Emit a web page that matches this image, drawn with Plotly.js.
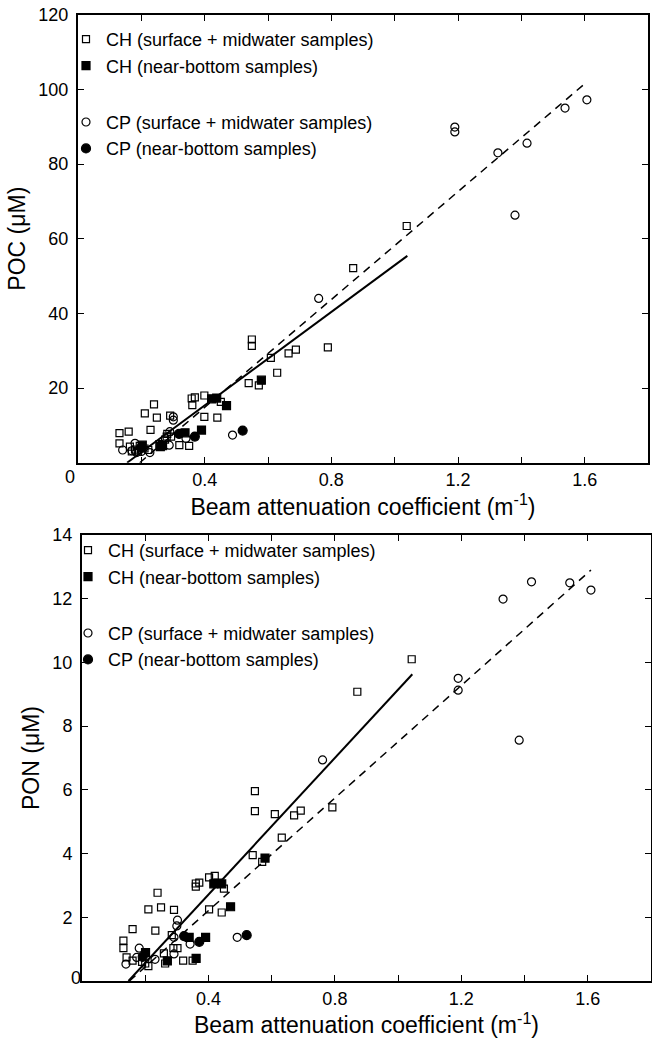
<!DOCTYPE html>
<html>
<head>
<meta charset="utf-8">
<script src="https://cdn.plot.ly/plotly-3.0.1.min.js"></script>
<style>html,body{margin:0;padding:0;background:#fff;}</style>
</head>
<body>
<div id="chart" style="width:652px;height:1039px;"></div>
<script>
// ---------- DATA: POC (top panel) ----------
const pocChSurfX = [0.131,0.131,0.16,0.164,0.17,0.18,0.19,0.195,0.2,0.211,0.21,0.222,0.229,0.24,0.249,0.257,0.275,0.28,0.282,0.291,0.294,0.32,0.351,0.359,0.361,0.369,0.399,0.399,0.44,0.451,0.539,0.549,0.549,0.571,0.609,0.629,0.665,0.688,0.789,0.869,1.038];
const pocChSurfY = [7.9,5.2,8.3,4.3,3.0,3.5,3.0,4.5,4.0,13.2,3.8,3.4,8.8,15.6,12.1,5.0,6.2,7.0,7.7,12.6,7.0,4.7,4.5,17.2,15.4,17.5,18.0,12.3,12.1,16.3,21.3,33.0,31.3,20.7,28.1,24.1,29.3,30.3,30.9,52.1,63.4];
const pocChBotX = [0.203,0.26,0.267,0.338,0.39,0.422,0.438,0.469,0.579];
const pocChBotY = [4.7,4.3,4.6,8.0,8.75,17.1,17.3,15.3,22.1];
const pocCpSurfX = [0.141,0.17,0.18,0.185,0.2,0.227,0.288,0.29,0.301,0.301,0.341,0.488,0.76,1.19,1.19,1.326,1.38,1.418,1.538,1.607];
const pocCpSurfY = [3.4,3.2,5.2,2.7,3.0,2.7,4.7,8.3,12.3,11.4,6.5,7.4,44.0,89.9,88.6,83.0,66.3,85.6,95.0,97.2];
const pocCpBotX = [0.2,0.319,0.369,0.52];
const pocCpBotY = [4.0,7.7,7.0,8.6];
const pocFitChX = [0.155,1.04];
const pocFitChY = [0,55.4];
const pocFitCpX = [0.195,1.6];
const pocFitCpY = [0,101.5];

// ---------- DATA: PON (bottom panel) ----------
const ponChSurfX = [0.131,0.131,0.141,0.16,0.16,0.19,0.2,0.21,0.21,0.232,0.239,0.25,0.259,0.263,0.284,0.289,0.291,0.302,0.32,0.35,0.36,0.36,0.371,0.402,0.402,0.42,0.442,0.449,0.54,0.547,0.547,0.57,0.61,0.632,0.671,0.692,0.792,0.871,1.043];
const ponChSurfY = [1.27,1.03,0.74,1.63,0.64,0.6,0.55,0.47,2.25,1.58,2.77,2.31,0.87,0.55,1.44,1.03,2.23,1.03,0.64,0.64,3.06,2.96,3.09,3.25,2.25,3.3,2.15,2.9,3.95,5.96,5.33,3.74,5.24,4.5,5.2,5.35,5.45,9.08,10.1];
const ponChBotX = [0.201,0.27,0.339,0.361,0.391,0.417,0.43,0.442,0.47,0.579];
const ponChBotY = [0.89,0.63,1.37,0.71,1.37,3.05,3.07,3.05,2.33,3.86];
const ponCpSurfX = [0.139,0.173,0.181,0.231,0.291,0.291,0.3,0.302,0.342,0.491,0.761,1.19,1.19,1.332,1.383,1.422,1.543,1.61];
const ponCpSurfY = [0.53,0.74,1.03,0.68,0.85,1.37,1.73,1.91,1.16,1.37,6.94,9.5,9.13,11.99,7.56,12.53,12.5,12.27];
const ponCpBotX = [0.192,0.323,0.371,0.521];
const ponCpBotY = [0.76,1.41,1.23,1.44];
const ponFitChX = [0.147,1.045];
const ponFitChY = [0,9.63];
const ponFitCpX = [0.15,1.61];
const ponFitCpY = [0,12.9];

// ---------- TICKS / LABELS ----------
const xTickVals = [0.4,0.8,1.2,1.6];
const xTickText = ['0.4','0.8','1.2','1.6'];
const xMinorVals = [0.2,0.6,1.0,1.4];
const pocTickVals = [20,40,60,80,100,120];
const pocTickText = ['20','40','60','80','100','120'];
const ponTickVals = [2,4,6,8,10,12,14];
const ponTickText = ['2','4','6','8','10','12','14'];
const seriesNames = ['CH (surface + midwater samples)','CH (near-bottom samples)','CP (surface + midwater samples)','CP (near-bottom samples)'];
const xTitle = 'Beam attenuation coefficient (m<sup>-1</sup>)';
const cornerLabel = '0';

// ---------- BUILD ----------
const FONT = 'Liberation Sans, Arial, Helvetica, sans-serif';
function pts(x, y, name, sym, size, grp, xa, ya, leg) {
  return {type:'scatter', mode:'markers', x:x, y:y, name:name, xaxis:xa, yaxis:ya,
    legend:leg, legendgroup:grp+leg, showlegend:true,
    marker:{symbol:sym, size:size, color:'#000', line:{color:'#000', width:1.2}}};
}
function fit(x, y, dash, w, xa, ya) {
  return {type:'scatter', mode:'lines', x:x, y:y, xaxis:xa, yaxis:ya, showlegend:false,
    hoverinfo:'skip', line:{color:'#000', width:w, dash:dash}};
}
const traces = [
  pts(pocChSurfX,pocChSurfY,seriesNames[0],'square-open',7,'ch','x','y','legend'),
  pts(pocChBotX,pocChBotY,seriesNames[1],'square',8,'ch','x','y','legend'),
  pts(pocCpSurfX,pocCpSurfY,seriesNames[2],'circle-open',8,'cp','x','y','legend'),
  pts(pocCpBotX,pocCpBotY,seriesNames[3],'circle',9,'cp','x','y','legend'),
  fit(pocFitChX,pocFitChY,'solid',2,'x','y'),
  fit(pocFitCpX,pocFitCpY,'8px,6px',1.5,'x','y'),
  pts(ponChSurfX,ponChSurfY,seriesNames[0],'square-open',7,'ch','x2','y2','legend2'),
  pts(ponChBotX,ponChBotY,seriesNames[1],'square',8,'ch','x2','y2','legend2'),
  pts(ponCpSurfX,ponCpSurfY,seriesNames[2],'circle-open',8,'cp','x2','y2','legend2'),
  pts(ponCpBotX,ponCpBotY,seriesNames[3],'circle',9,'cp','x2','y2','legend2'),
  fit(ponFitChX,ponFitChY,'solid',2,'x2','y2'),
  fit(ponFitCpX,ponFitCpY,'8px,6px',1.5,'x2','y2')
];
const H = 1039, W = 652;
function xAxis(dom, anchor, standoff, tstand) {
  return {domain:dom, anchor:anchor, range:[0,1.8], tickvals:xTickVals, ticktext:xTickText,
    minor:{tickvals:xMinorVals, ticks:'inside', ticklen:6, tickwidth:1, tickcolor:'#000', showgrid:false},
    ticks:'inside', ticklen:6, tickwidth:1, tickcolor:'#000', mirror:'ticks', showline:true,
    linewidth:2, linecolor:'#000', showgrid:false, zeroline:false, fixedrange:true,
    ticklabelstandoff:standoff, tickfont:{size:18, color:'#000'},
    title:{text:xTitle, font:{size:23, color:'#000'}, standoff:tstand}};
}
function yAxis(dom, anchor, rng, tv, tt, title) {
  return {domain:dom, anchor:anchor, range:rng, tickvals:tv, ticktext:tt,
    ticks:'inside', ticklen:6, tickwidth:1, tickcolor:'#000', mirror:'ticks', showline:true,
    linewidth:2, linecolor:'#000', showgrid:false, zeroline:false, fixedrange:true,
    ticklabelstandoff:4, tickfont:{size:18, color:'#000'},
    title:{text:title, font:{size:23, color:'#000'}, standoff:6}};
}
const legendBase = {bgcolor:'rgba(0,0,0,0)', borderwidth:0, traceorder:'grouped',
  tracegroupgap:30, font:{size:18, color:'#000'}, xanchor:'left', yanchor:'top', itemclick:false};
const layout = {
  width:W, height:H, margin:{l:0,r:0,t:0,b:0},
  paper_bgcolor:'#fff', plot_bgcolor:'#fff',
  font:{family:FONT, color:'#000'},
  showlegend:true,
  xaxis: xAxis([78/W, 648/W], 'y', 0, 4),
  yaxis: yAxis([1-462.7/H, 1-14.7/H], 'x', [0,120], pocTickVals, pocTickText, 'POC (\u03bcM)'),
  xaxis2: xAxis([82/W, 651/W], 'y2', 0, 9),
  yaxis2: yAxis([1-981/H, 1-535/H], 'x2', [0,14], ponTickVals, ponTickText, 'PON (\u03bcM)'),
  legend: Object.assign({}, legendBase, {x:66/W, y:1-21/H}),
  legend2: Object.assign({}, legendBase, {x:68/W, y:1-532/H}),
  annotations:[
    {text:cornerLabel, xref:'paper', yref:'paper', x:63.3/W, y:1-477/H, showarrow:false, font:{size:18, color:'#000'}},
    {text:cornerLabel, xref:'paper', yref:'paper', x:69.3/W, y:1-990/H, showarrow:false, font:{size:18, color:'#000'}}
  ]
};
Plotly.newPlot('chart', traces, layout, {displayModeBar:false, staticPlot:true});
</script>
</body>
</html>
